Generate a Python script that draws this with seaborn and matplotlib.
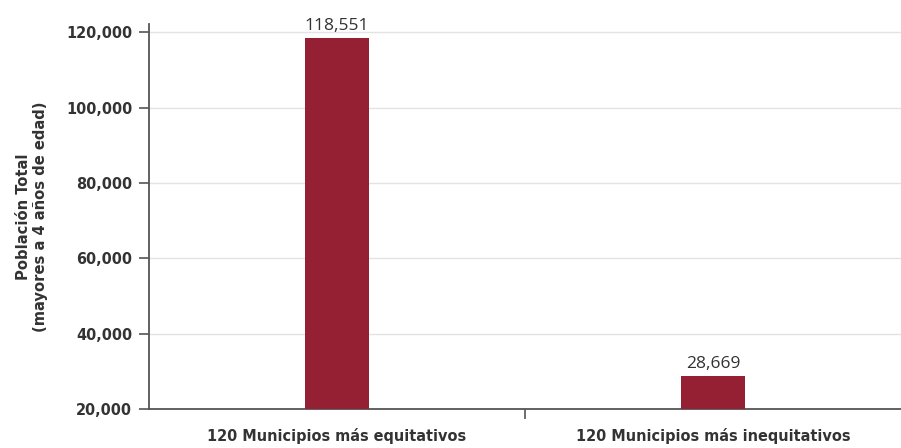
import matplotlib
matplotlib.use("Agg")
import matplotlib.pyplot as plt
import seaborn as sns
import pandas as pd
from matplotlib.ticker import FuncFormatter, FixedLocator

categories = ["120 Municipios más equitativos", "120 Municipios más inequitativos"]
values = [118551, 28669]
yticks = [20000, 40000, 60000, 80000, 100000, 120000]

sns.set_theme(style="white")
plt.rcParams['font.family'] = ['DejaVu Sans']
plt.rcParams['font.stretch'] = 'condensed'

df = pd.DataFrame({"cat": categories, "val": values})

fig = plt.figure(figsize=(9.01, 4.48), dpi=100)
ax = fig.add_axes([0.1654, 0.0871, 0.8346, 0.8593])

sns.barplot(data=df, x="cat", y="val", color="#951f33", width=0.168, ax=ax, zorder=3,
            saturation=1, linewidth=0)

ax.set_ylim(20000, 122200)
ax.set_xlim(-0.5, 1.5)
ax.set_yticks(yticks)
ax.yaxis.set_major_formatter(FuncFormatter(lambda v, p: f"{int(v):,}"))
ax.yaxis.grid(True, color="#e3e3e3", linewidth=1, zorder=0)
ax.xaxis.grid(False)

for s in ["top", "right"]:
    ax.spines[s].set_visible(False)
for s in ["left", "bottom"]:
    ax.spines[s].set_color("#555555")
    ax.spines[s].set_linewidth(1.3)

ax.tick_params(axis="y", which="major", length=7, width=1.2, color="#555555",
               labelsize=11.6, labelcolor="#333333", pad=5, left=True)
ax.tick_params(axis="x", which="major", length=0, labelsize=11.6, labelcolor="#333333", pad=14)
ax.xaxis.set_minor_locator(FixedLocator([0.5]))
ax.tick_params(axis="x", which="minor", length=7, width=1.2, color="#555555", bottom=True)
for lbl in ax.get_xticklabels() + ax.get_yticklabels():
    lbl.set_fontweight("bold")
    lbl.set_fontstretch("condensed")

ax.set_xlabel("")
ax.set_ylabel("Población Total\n(mayores a 4 años de edad)", fontsize=11.8, fontweight="bold",
              fontstretch="condensed", color="#333333", labelpad=13, linespacing=1.15)

for i, v in enumerate(values):
    ax.annotate(f"{v:,}", (i, v), xytext=(0, 3), textcoords="offset points",
                ha="center", va="bottom", fontsize=12.5, color="#333333",
                family=["Open Sans", "DejaVu Sans"], fontstretch="normal")

fig.savefig("out.png", dpi=100)
